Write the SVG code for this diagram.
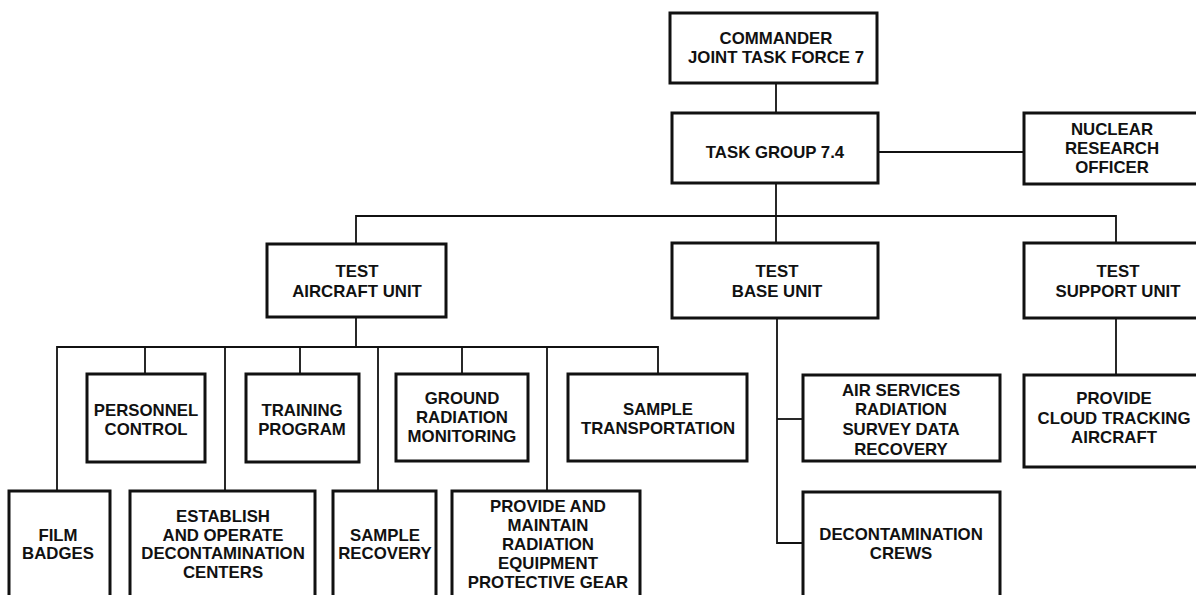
<svg xmlns="http://www.w3.org/2000/svg" width="1196" height="595" viewBox="0 0 1196 595">
<style>
.box{fill:#fff;stroke:#111;stroke-width:3}
.ln{fill:none;stroke:#111;stroke-width:1.8}
.t{font-family:"Liberation Sans",Arial,sans-serif;font-weight:bold;font-size:16px;fill:#111;text-anchor:middle}
</style>
<rect width="1196" height="595" fill="#fff"/>
<g id="connectors" class="ln">
<path d="M776 82V113"/>
<path d="M878 152H1024"/>
<path d="M776 183V243"/>
<path d="M356 243V216H1116V243"/>
<path d="M356 317V347"/>
<path d="M57 490V347H658V374"/>
<path d="M145 347V374"/>
<path d="M225 347V490"/>
<path d="M300 347V374"/>
<path d="M378 347V490"/>
<path d="M462 347V374"/>
<path d="M547 347V490"/>
<path d="M777 317V543H803"/>
<path d="M777 419H803"/>
<path d="M1116 317V375"/>
</g>
<g id="commander"><rect class="box" x="670" y="13" width="207" height="70"/>
<text class="t" transform="translate(776 0) scale(1.05 1)"><tspan x="0" y="44">COMMANDER</tspan><tspan x="0" y="63">JOINT TASK FORCE 7</tspan></text></g>
<g id="tg74"><rect class="box" x="672" y="113" width="206" height="70"/>
<text class="t" transform="translate(775 0) scale(1.05 1)"><tspan x="0" y="158">TASK GROUP 7.4</tspan></text></g>
<g id="nuclear"><rect class="box" x="1024" y="113" width="184" height="71"/>
<text class="t" transform="translate(1112 0) scale(1.05 1)"><tspan x="0" y="135">NUCLEAR</tspan><tspan x="0" y="154">RESEARCH</tspan><tspan x="0" y="173">OFFICER</tspan></text></g>
<g id="tau"><rect class="box" x="267" y="244" width="179" height="73"/>
<text class="t" transform="translate(357 0) scale(1.05 1)"><tspan x="0" y="277">TEST</tspan><tspan x="0" y="297">AIRCRAFT UNIT</tspan></text></g>
<g id="tbu"><rect class="box" x="672" y="243" width="206" height="75"/>
<text class="t" transform="translate(777 0) scale(1.05 1)"><tspan x="0" y="277">TEST</tspan><tspan x="0" y="297">BASE UNIT</tspan></text></g>
<g id="tsu"><rect class="box" x="1024" y="243" width="184" height="75"/>
<text class="t" transform="translate(1118 0) scale(1.05 1)"><tspan x="0" y="277">TEST</tspan><tspan x="0" y="297">SUPPORT UNIT</tspan></text></g>
<g id="personnel"><rect class="box" x="87" y="374" width="118" height="88"/>
<text class="t" transform="translate(146 0) scale(1.05 1)"><tspan x="0" y="416">PERSONNEL</tspan><tspan x="0" y="435">CONTROL</tspan></text></g>
<g id="training"><rect class="box" x="246" y="374" width="113" height="88"/>
<text class="t" transform="translate(302 0) scale(1.05 1)"><tspan x="0" y="416">TRAINING</tspan><tspan x="0" y="435">PROGRAM</tspan></text></g>
<g id="grm"><rect class="box" x="396" y="374" width="132" height="87"/>
<text class="t" transform="translate(462 0) scale(1.05 1)"><tspan x="0" y="404">GROUND</tspan><tspan x="0" y="423">RADIATION</tspan><tspan x="0" y="442">MONITORING</tspan></text></g>
<g id="sampletrans"><rect class="box" x="568" y="374" width="179" height="87"/>
<text class="t" transform="translate(658 0) scale(1.05 1)"><tspan x="0" y="415">SAMPLE</tspan><tspan x="0" y="434">TRANSPORTATION</tspan></text></g>
<g id="film"><rect class="box" x="9" y="491" width="101" height="130"/>
<text class="t" transform="translate(58 0) scale(1.05 1)"><tspan x="0" y="541">FILM</tspan><tspan x="0" y="559">BADGES</tspan></text></g>
<g id="establish"><rect class="box" x="130" y="491" width="185" height="130"/>
<text class="t" transform="translate(223 0) scale(1.05 1)"><tspan x="0" y="522">ESTABLISH</tspan><tspan x="0" y="541">AND OPERATE</tspan><tspan x="0" y="559">DECONTAMINATION</tspan><tspan x="0" y="578">CENTERS</tspan></text></g>
<g id="samplerec"><rect class="box" x="333" y="491" width="103" height="130"/>
<text class="t" transform="translate(385 0) scale(1.05 1)"><tspan x="0" y="541">SAMPLE</tspan><tspan x="0" y="559">RECOVERY</tspan></text></g>
<g id="pmre"><rect class="box" x="452" y="491" width="188" height="130"/>
<text class="t" transform="translate(548 0) scale(1.05 1)"><tspan x="0" y="512">PROVIDE AND</tspan><tspan x="0" y="531">MAINTAIN</tspan><tspan x="0" y="550">RADIATION</tspan><tspan x="0" y="569">EQUIPMENT</tspan><tspan x="0" y="588">PROTECTIVE GEAR</tspan></text></g>
<g id="airservices"><rect class="box" x="803" y="375" width="197" height="86"/>
<text class="t" transform="translate(901 0) scale(1.05 1)"><tspan x="0" y="396">AIR SERVICES</tspan><tspan x="0" y="415">RADIATION</tspan><tspan x="0" y="435">SURVEY DATA</tspan><tspan x="0" y="455">RECOVERY</tspan></text></g>
<g id="deconcrews"><rect class="box" x="803" y="492" width="197" height="130"/>
<text class="t" transform="translate(901 0) scale(1.05 1)"><tspan x="0" y="540">DECONTAMINATION</tspan><tspan x="0" y="559">CREWS</tspan></text></g>
<g id="cloud"><rect class="box" x="1024" y="375" width="184" height="92"/>
<text class="t" transform="translate(1114 0) scale(1.05 1)"><tspan x="0" y="404">PROVIDE</tspan><tspan x="0" y="424">CLOUD TRACKING</tspan><tspan x="0" y="443">AIRCRAFT</tspan></text></g>
</svg>
